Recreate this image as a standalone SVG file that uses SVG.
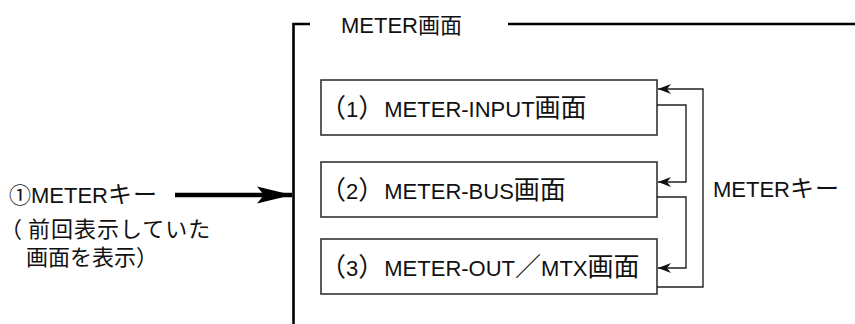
<svg xmlns="http://www.w3.org/2000/svg" width="855" height="324" viewBox="0 0 855 324">
  <style>
    .t { font-family: "Liberation Sans", "Noto Sans CJK JP", sans-serif; font-size: 22px; fill: #111; }
    .j { font-family: "Noto Sans CJK JP", sans-serif; font-size: 26px; }
    .k { font-family: "Noto Sans CJK JP", sans-serif; font-size: 24px; letter-spacing: 1px; }
    .box { fill: #fff; stroke: #333; stroke-width: 1.6; }
    .conn { fill: none; stroke: #222; stroke-width: 1.4; }
    .frame { fill: none; stroke: #000; stroke-width: 2.6; }
  </style>
  <defs>
    <marker id="ah" markerUnits="userSpaceOnUse" markerWidth="16" markerHeight="12" viewBox="0 -6 14 12" refX="13" refY="0" orient="auto">
      <path d="M0,-5 L13,0 L0,5 L4,0 z" fill="#111"/>
    </marker>
    <marker id="big" markerUnits="userSpaceOnUse" markerWidth="36" markerHeight="20" viewBox="0 -10 36 20" refX="35" refY="0" orient="auto">
      <path d="M0,-8.5 L35,0 L0,8.5 L7,0 z" fill="#000"/>
    </marker>
  </defs>

  <g id="frame">
    <path class="frame" d="M293.5,324 V24 H310"/>
    <line class="frame" x1="508" y1="24" x2="855" y2="24" stroke-width="2.2"/>
    <text class="t" x="341" y="33">METER画面</text>
  </g>

  <g id="node-input">
    <rect class="box" x="321" y="80" width="336" height="55"/>
    <text class="t" x="320" y="117"><tspan class="j">（</tspan>1<tspan class="j">）</tspan>METER-INPUT<tspan class="j">画面</tspan></text>
  </g>
  <g id="node-bus">
    <rect class="box" x="321" y="162" width="336" height="55"/>
    <text class="t" x="320" y="199"><tspan class="j">（</tspan>2<tspan class="j">）</tspan>METER-BUS<tspan class="j">画面</tspan></text>
  </g>
  <g id="node-out">
    <rect class="box" x="321" y="239" width="336" height="55"/>
    <text class="t" x="320" y="276"><tspan class="j">（</tspan>3<tspan class="j">）</tspan>METER-OUT<tspan class="j">／</tspan>MTX<tspan class="j">画面</tspan></text>
  </g>

  <g id="meter-key-left">
    <text class="t" x="9" y="203">①METER<tspan class="k">キー</tspan></text>
    <text class="t" x="0" y="237">（<tspan x="28" letter-spacing="1">前回表示していた</tspan></text>
    <text class="t" x="26" y="265">画面を表示）</text>
  </g>

  <g id="meter-key-right">
    <text class="t" x="713" y="197">METER<tspan class="k">キー</tspan></text>
  </g>

  <g id="connectors">
    <path d="M175,195 H292" stroke="#000" stroke-width="4.5" fill="none" marker-end="url(#big)"/>
    <path class="conn" d="M657,105 H686 V182 H658" marker-end="url(#ah)"/>
    <path class="conn" d="M657,197 H686 V268 H658" marker-end="url(#ah)"/>
    <path class="conn" d="M657,287 H703 V89 H658" marker-end="url(#ah)"/>
  </g>
</svg>
